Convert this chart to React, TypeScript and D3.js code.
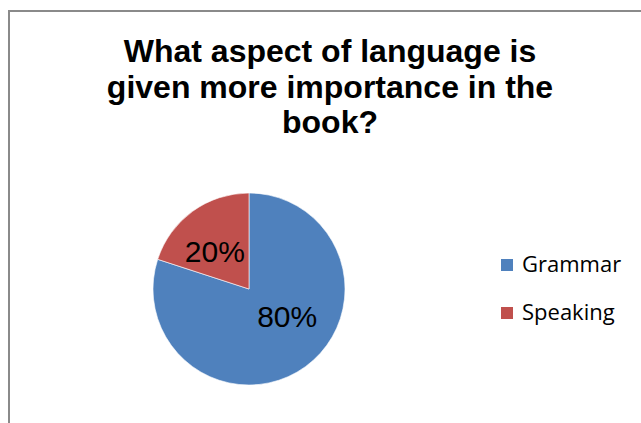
import React from "react";
import * as d3 from "d3";

const categories = ["Grammar", "Speaking"];
const values = [80, 20];
const colors = ["#4F81BD", "#C0504D"];
const titleLines = ["What aspect of language is", "given more importance in the", "book?"];

const W = 641;
const H = 423;

export default function App() {
  const cx = 249;
  const cy = 289;
  const r = 96;
  const pie = d3.pie<number>().sort(null).value((d) => d)(values);
  const arc = d3.arc<d3.PieArcDatum<number>>().innerRadius(0).outerRadius(r);
  const labelArc = d3.arc<d3.PieArcDatum<number>>().innerRadius(0).outerRadius(r);
  const total = d3.sum(values);
  const labelNudge = [
    [10, -11],
    [-6, 1],
  ];
  return (
    <svg
      width={W}
      height={H}
      style={{ position: "absolute", left: 0, top: 0, background: "#fff" }}
    >
      <rect x={9} y={11} width={W + 20} height={H + 20} fill="#fff" stroke="#8a8a8a" strokeWidth={2} />
      {titleLines.map((t, i) => (
        <text
          key={i}
          x={330}
          y={62 + i * 35.5}
          textAnchor="middle"
          fontFamily="'Liberation Sans', Arial, sans-serif"
          fontWeight="bold"
          fontSize={32}
          fill="#000"
        >
          {t}
        </text>
      ))}
      <g transform={`translate(${cx},${cy})`}>
        {pie.map((p, i) => (
          <path key={i} d={arc(p) || ""} fill={colors[i]} stroke="#fff" strokeWidth={0.6} />
        ))}
        {pie.map((p, i) => {
          const [x, y] = labelArc.centroid(p);
          return (
            <text
              key={"l" + i}
              x={x + labelNudge[i][0]}
              y={y + labelNudge[i][1]}
              textAnchor="middle"
              dominantBaseline="central"
              fontFamily="'Liberation Sans', Arial, sans-serif"
              fontSize={30}
              fill="#000"
            >
              {Math.round((p.value / total) * 100)}%
            </text>
          );
        })}
      </g>
      {categories.map((c, i) => (
        <g key={c} transform={`translate(501,${259 + i * 48})`}>
          <rect x={0} y={0} width={12} height={12} fill={colors[i]} />
          <text
            x={21}
            y={13}
            fontFamily="'Open Sans', sans-serif"
            fontSize={22}
            fill="#000"
          >
            {c}
          </text>
        </g>
      ))}
    </svg>
  );
}
